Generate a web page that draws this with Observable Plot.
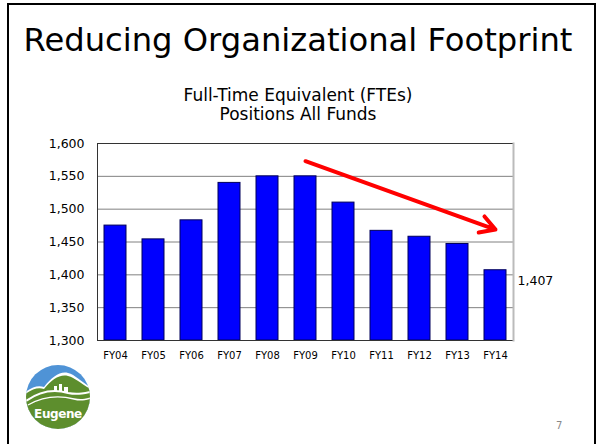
<!DOCTYPE html>
<html>
<head>
<meta charset="utf-8">
<script src="https://cdn.jsdelivr.net/npm/d3@7"></script>
<script src="https://cdn.jsdelivr.net/npm/@observablehq/plot@0.6"></script>
<style>
  html, body { margin: 0; padding: 0; background: #fff; }
  #slide { position: relative; width: 596px; height: 444px; overflow: hidden; font-family: "DejaVu Sans", sans-serif; }
  #border { position: absolute; left: 7px; top: 3px; width: 589px; height: 460px; box-sizing: border-box; border: 2px solid #000; }
  #title { position: absolute; left: 0; width: 596px; top: 24px; text-align: center; font-size: 32.2px; line-height: 32px; color: #000; white-space: nowrap; }
  #subtitle { position: absolute; left: 0; width: 596px; top: 86px; text-align: center; font-size: 17px; line-height: 19px; color: #000; }
  #chart { position: absolute; left: 0; top: 130px; }
  #logo { position: absolute; left: 24px; top: 363px; }
  #page { position: absolute; left: 556px; top: 420px; font-size: 10px; color: #888; }
</style>
</head>
<body>
<div id="slide">
  <div id="border"></div>
  <div id="title">Reducing Organizational Footprint</div>
  <div id="subtitle">Full-Time Equivalent (FTEs)<br>Positions All Funds</div>
  <div id="chart"></div>
  <svg id="logo" width="70" height="70" viewBox="0 0 70 70">
    <defs><clipPath id="lc"><circle cx="34" cy="34" r="32"/></clipPath></defs>
    <g clip-path="url(#lc)">
      <rect x="0" y="0" width="70" height="70" fill="#4f93d6"/>
      <path d="M0,30 C8,24 14,22 20,24 C28,14 36,8 44,10 C52,12 58,20 70,26 L70,70 L0,70 Z" fill="#fff"/>
      <path d="M0,32 C8,26 14,24 20,26 C28,16 36,11 44,13 C52,15 58,22 70,28 L70,70 L0,70 Z" fill="#5d8e2d"/>
      <path d="M2,38 C16,28 30,26 44,30 C54,32 62,30 70,28" fill="none" stroke="#fff" stroke-width="2"/>
      <path d="M4,42 C18,34 34,32 50,36 C58,38 64,36 70,34" fill="none" stroke="#fff" stroke-width="1.4"/>
      <rect x="30" y="23" width="3" height="6" fill="#fff"/>
      <rect x="35" y="21" width="3" height="8" fill="#fff"/>
      <rect x="40" y="24" width="4" height="5" fill="#fff"/>
    </g>
    <text x="34" y="55" text-anchor="middle" font-family="DejaVu Sans" font-weight="bold" font-size="12" fill="#fff" letter-spacing="-0.4">Eugene</text>
  </svg>
  <div id="page">7</div>
</div>
<script>
// ---- data ----
const years = ["FY04", "FY05", "FY06", "FY07", "FY08", "FY09", "FY10", "FY11", "FY12", "FY13", "FY14"];
const ftes = [1475, 1454, 1483, 1540, 1550, 1550, 1510, 1467, 1458, 1447, 1407];
const yTicks = [1300, 1350, 1400, 1450, 1500, 1550, 1600];
const yBase = 1300;
const trendFrom = ["FY09", 1573];
const trendTo = ["FY14", 1469];

const data = years.map((year, i) => ({year, fte: ftes[i]}));
const last = [data[data.length - 1]];
const trend = [{x1: trendFrom[0], y1: trendFrom[1], x2: trendTo[0], y2: trendTo[1]}];
const fmt = d3.format(",.0f");

const chart = Plot.plot({
  width: 596,
  height: 240,
  marginTop: 13,
  marginBottom: 30,
  marginLeft: 97,
  marginRight: 83,
  style: {fontFamily: "DejaVu Sans", background: "transparent", color: "#000", overflow: "visible"},
  x: {domain: years, paddingInner: 0.42, paddingOuter: 0.18, label: null},
  y: {domain: [yTicks[0], yTicks[yTicks.length - 1]], label: null},
  marks: [
    Plot.gridY(yTicks, {stroke: "#808080", strokeOpacity: 1}),
    Plot.barY(data, {x: "year", y1: yBase, y2: "fte", fill: "#0000ff", stroke: "#00005a", strokeWidth: 1}),
    Plot.ruleY([yTicks[yTicks.length - 1]], {stroke: "#333"}),
    Plot.ruleY([yBase], {stroke: "#333"}),
    Plot.frame({anchor: "left", stroke: "#333"}),
    Plot.frame({anchor: "right", stroke: "#bbb", strokeWidth: 2}),
    Plot.axisY(yTicks, {tickFormat: fmt, tickSize: 0, tickPadding: 13, fontSize: 12.5}),
    Plot.axisX({tickSize: 0, tickPadding: 11, fontSize: 10}),
    Plot.arrow(trend, {x1: "x1", y1: "y1", x2: "x2", y2: "y2", stroke: "#ff0000", strokeWidth: 4, headLength: 6.4}),
    Plot.text(last, {y: "fte", text: d => fmt(d.fte), frameAnchor: "right", textAnchor: "start", dx: 4, dy: 11, fontSize: 12.5})
  ]
});
document.getElementById("chart").appendChild(chart);
</script>
</body>
</html>
